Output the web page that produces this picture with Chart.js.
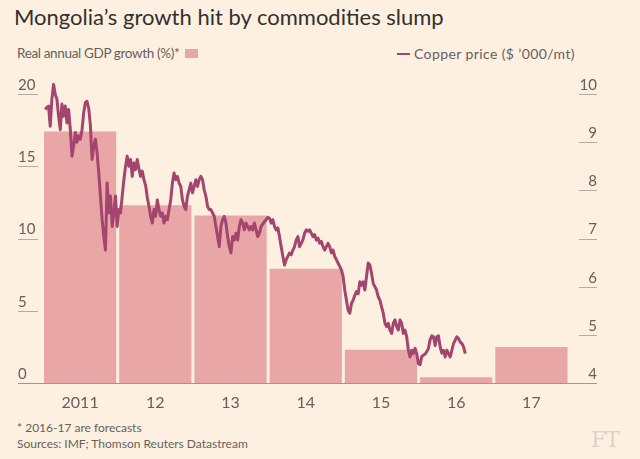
<!DOCTYPE html>
<html>
<head>
<meta charset="utf-8">
<script src="https://cdn.jsdelivr.net/npm/chart.js@4.4.1/dist/chart.umd.min.js"></script>
<style>
  body { margin: 0; background: #fdf0e1; }
  #wrap { position: relative; width: 640px; height: 459px; background: #fdf0e1; font-family: Lato, "Open Sans", sans-serif; color: #66605c; overflow: hidden; }
  #title { position: absolute; left: 14px; top: 3px; font-size: 22px; color: #33302e; white-space: nowrap; }
  .leg { position: absolute; top: 45px; font-size: 14px; white-space: nowrap; }
  #legL { left: 17px; font-size: 13.5px; letter-spacing: -0.35px; }
  #legR { left: 397px; letter-spacing: 0.4px; }
  .box { display: inline-block; width: 13px; height: 9px; background: #e8a6a6; margin-left: 6px; vertical-align: 0px; }
  .dash { display: inline-block; width: 13px; height: 2.5px; background: #a3456e; margin-right: 4px; vertical-align: 4px; }
  .foot { position: absolute; left: 17px; font-size: 12px; white-space: nowrap; }
  #ft { position: absolute; left: 591px; top: 427px; font-family: "DejaVu Serif", serif; font-size: 22px; color: #ddd3ca; letter-spacing: -1px; }
  #chartBox { position: absolute; left: 0; top: 70px; width: 640px; height: 350px; }
</style>
</head>
<body>
<div id="wrap">
  <div id="title">Mongolia’s growth hit by commodities slump</div>
  <div class="leg" id="legL">Real annual GDP growth (%)*<span class="box"></span></div>
  <div class="leg" id="legR"><span class="dash"></span>Copper price ($ ’000/mt)</div>
  <div id="chartBox"><canvas id="chart" width="640" height="350"></canvas></div>
  <div class="foot" style="top:420px">* 2016-17 are forecasts</div>
  <div class="foot" style="top:436px">Sources: IMF; Thomson Reuters Datastream</div>
  <div id="ft">FT</div>
</div>
<script>
// GDP growth by year (2016-17 forecasts)
const years = ['2011', '12', '13', '14', '15', '16', '17'];
const gdpGrowth = [17.4, 12.3, 11.6, 7.9, 2.3, 0.4, 2.5];

// copper price, $'000/mt at regular steps from early 2011
const copperStart = 2011.036;
const copperStep = 0.02225; // years between readings (~8 days)
const copperPrice = [
  9.68, 9.72, 9.75, 9.33, 9.9, 10.2, 9.99, 9.89, 9.54, 9.26,
  9.79, 9.54, 9.75, 9.4, 9.68, 9.26, 8.71, 8.92, 9.2, 9.0,
  9.13, 9.06, 9.26, 9.61, 9.82, 9.85, 9.7, 9.35, 8.64, 8.92,
  9.06, 8.78, 8.36, 7.88, 7.39, 7.04, 6.76, 8.15, 7.53, 7.88,
  7.25, 7.53, 7.88, 7.25, 7.6, 7.53, 7.88, 8.22, 8.5, 8.71,
  8.5, 8.64, 8.29, 8.57, 8.43, 8.64, 8.45, 8.29, 8.4, 8.22,
  8.1, 7.85, 7.67, 7.46, 7.32, 7.6, 7.46, 7.8, 7.6, 7.46,
  7.53, 7.32, 7.46, 7.39, 7.6, 7.8, 8.15, 8.36, 8.22, 8.29,
  8.15, 8.08, 7.8, 7.67, 7.6, 7.88, 8.01, 8.15, 7.95, 8.08,
  8.22, 8.08, 8.22, 8.29, 8.22, 8.01, 7.88, 7.67, 7.6, 7.6,
  7.53, 7.46, 7.25, 7.04, 6.83, 7.25, 7.39, 7.46, 7.32, 7.04,
  6.83, 6.7, 7.04, 6.97, 7.11, 6.97, 7.25, 7.39, 7.32, 7.18,
  7.32, 7.25, 7.18, 7.25, 7.18, 7.32, 7.18, 7.04, 7.11, 7.25,
  7.3, 7.35, 7.39, 7.44, 7.42, 7.32, 7.39, 7.25, 7.18, 7.22,
  7.04, 6.83, 6.63, 6.45, 6.56, 6.63, 6.7, 6.66, 6.76, 6.83,
  6.97, 7.04, 6.83, 6.9, 6.97, 7.11, 7.18, 7.15, 7.18, 7.11,
  7.04, 7.08, 6.97, 7.01, 6.9, 6.94, 6.83, 6.76, 6.83, 6.9,
  6.83, 6.7, 6.76, 6.63, 6.56, 6.49, 6.42, 6.35, 6.21, 5.93,
  5.72, 5.51, 5.45, 5.65, 5.72, 5.82, 5.9, 5.85, 6.1, 6.03,
  6.1, 5.93, 6.21, 6.49, 6.45, 6.28, 6.07, 6.0, 5.93, 5.79,
  5.72, 5.58, 5.45, 5.24, 5.17, 5.24, 5.1, 5.03, 5.24, 5.31,
  5.17, 5.1, 5.31, 5.24, 5.03, 5.1, 4.96, 4.68, 4.54, 4.68,
  4.61, 4.72, 4.61, 4.4, 4.38, 4.55, 4.58, 4.6, 4.65, 4.72,
  4.9, 4.98, 4.96, 4.78, 4.96, 4.98, 4.75, 4.62, 4.68, 4.54,
  4.68, 4.61, 4.54, 4.68, 4.82, 4.89, 4.96, 4.92, 4.85, 4.82,
  4.75, 4.61
];

const gdpTicks = [0, 5, 10, 15, 20];
const copperTicks = [4, 5, 6, 7, 8, 9, 10];

const copperPoints = copperPrice.map((p, i) => ({ x: copperStart + i * copperStep, y: p }));

const tickColor = '#66605c';
const ruleColor = '#b5aba3';

// short FT-style rules under the axis labels, plus the baseline
const axisRules = {
  id: 'axisRules',
  afterDraw(chart) {
    const c = chart.ctx;
    const yL = chart.scales.y, yR = chart.scales.y2;
    c.save();
    c.strokeStyle = ruleColor;
    c.lineWidth = 1;
    gdpTicks.forEach(v => {
      if (v === 0) return;
      const py = Math.round(yL.getPixelForValue(v)) + 0.5;
      c.beginPath(); c.moveTo(18, py); c.lineTo(38, py); c.stroke();
    });
    copperTicks.forEach(v => {
      if (v === 4) return;
      const py = Math.round(yR.getPixelForValue(v)) + 0.5;
      c.beginPath(); c.moveTo(579, py); c.lineTo(597, py); c.stroke();
    });
    const base = Math.round(yL.getPixelForValue(0)) + 0.5;
    c.strokeStyle = '#9e968f';
    c.beginPath(); c.moveTo(18, base); c.lineTo(597, base); c.stroke();
    c.restore();
  }
};

new Chart(document.getElementById('chart'), {
  type: 'bar',
  data: {
    labels: years,
    datasets: [
      {
        type: 'line',
        label: 'Copper price',
        data: copperPoints,
        xAxisID: 'x2',
        yAxisID: 'y2',
        borderColor: '#a3456e',
        borderWidth: 3,
        borderJoinStyle: 'round',
        pointRadius: 0,
        tension: 0,
        clip: false,
        order: 0
      },
      {
        type: 'bar',
        label: 'Real annual GDP growth',
        data: gdpGrowth,
        xAxisID: 'x',
        yAxisID: 'y',
        backgroundColor: '#e8a6a6',
        categoryPercentage: 1,
        barPercentage: 0.96,
        grouped: false,
        order: 1
      }
    ]
  },
  options: {
    responsive: false,
    animation: false,
    layout: { padding: { left: 18, right: 43, top: 24, bottom: 7 } },
    plugins: { legend: { display: false }, tooltip: { enabled: false } },
    scales: {
      x: {
        type: 'category',
        position: 'bottom',
        offset: true,
        grid: { display: false, drawTicks: false },
        border: { display: false },
        ticks: { color: tickColor, font: { family: 'Lato', size: 16 }, padding: 10 },
        afterFit: s => { s.height = 30; }
      },
      x2: {
        type: 'linear',
        display: false,
        offset: false,
        min: 2011,
        max: 2018
      },
      y: {
        position: 'left',
        min: 0,
        max: 20,
        afterBuildTicks: s => { s.ticks = gdpTicks.map(v => ({ value: v })); },
        grid: { display: false, drawTicks: false },
        border: { display: false },
        ticks: { color: tickColor, font: { family: 'Lato', size: 15 }, crossAlign: 'far', labelOffset: -9, padding: 0 },
        afterFit: s => { s.width = 24.5; }
      },
      y2: {
        position: 'right',
        min: 4,
        max: 10,
        afterBuildTicks: s => { s.ticks = copperTicks.map(v => ({ value: v })); },
        grid: { display: false, drawTicks: false },
        border: { display: false },
        ticks: { color: tickColor, font: { family: 'Lato', size: 15 }, crossAlign: 'far', labelOffset: -9, padding: 0 },
        afterFit: s => { s.width = 28; }
      }
    }
  },
  plugins: [axisRules]
});
</script>
</body>
</html>
